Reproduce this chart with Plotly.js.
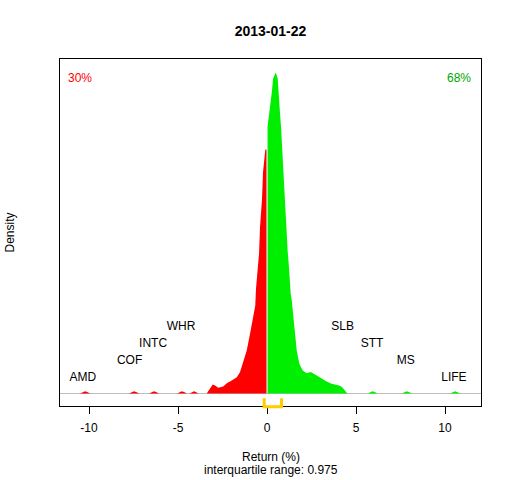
<!DOCTYPE html>
<html>
<head>
<meta charset="utf-8">
<script src="https://cdn.plot.ly/plotly-3.0.1.min.js"></script>
<style>html,body{margin:0;padding:0;background:#fff}#chart{width:512px;height:480px}</style>
</head>
<body>
<div id="chart"></div>
<script>
// Density of negative returns (red)
var negReturn = [-10.50,-10.40,-10.22,-10.04,-9.94,
  -7.75,-7.65,-7.47,-7.29,-7.19,
  -6.63,-6.53,-6.35,-6.17,-6.07,
  -5.06,-4.96,-4.78,-4.60,-4.50,
  -4.35,-4.25,-4.10,-3.95,-3.85,
  -3.39,-3.20,-3.05,-2.92,-2.74,-2.46,-2.26,-1.98,-1.70,-1.52,-1.33,-1.14,-0.955,-0.77,-0.66,-0.62,-0.56,-0.506,-0.449,-0.393,-0.337,-0.281,-0.225,-0.152,-0.096,-0.03];
var negDensity = [0,0.002,0.004,0.002,0,
  0,0.002,0.004,0.002,0,
  0,0.002,0.004,0.002,0,
  0,0.002,0.004,0.002,0,
  0,0.002,0.004,0.002,0,
  0,0.0107,0.0168,0.0150,0.0107,0.0131,0.0193,0.0243,0.0305,0.0398,0.0585,0.0804,0.1116,0.149,0.1645,0.1957,0.2144,0.2361,0.2611,0.3108,0.3359,0.3639,0.4136,0.4355,0.456,0.456];
// Density of positive returns (green)
var posReturn = [0.03,0.073,0.152,0.208,0.242,0.281,0.337,0.41,0.449,0.489,0.601,0.635,0.691,0.730,0.787,0.826,0.882,0.938,0.994,1.051,1.067,1.124,1.163,1.219,1.275,1.331,1.388,1.478,1.573,1.669,1.815,2.006,2.23,2.455,2.70,2.98,3.35,3.63,3.92,4.10,4.25,4.38,4.51,
  5.65,5.75,5.93,6.11,6.21,
  7.57,7.67,7.85,8.03,8.13,
  10.28,10.38,10.56,10.74,10.84];
var posDensity = [0.499,0.510,0.523,0.5415,0.554,0.566,0.588,0.594,0.599,0.600,0.588,0.563,0.5415,0.523,0.498,0.473,0.445,0.395,0.368,0.342,0.317,0.289,0.264,0.242,0.202,0.186,0.174,0.143,0.112,0.080,0.0555,0.043,0.038,0.040,0.0355,0.0293,0.0224,0.0181,0.0150,0.0144,0.0107,0.0056,0,
  0,0.002,0.004,0.002,0,
  0,0.002,0.004,0.002,0,
  0,0.002,0.004,0.002,0];
// Outlier stock labels and their returns (%)
var lowNames = ['AMD','COF','INTC','WHR'];
var lowReturns = [-10.34,-7.72,-6.40,-4.83];
var highNames = ['SLB','STT','MS','LIFE'];
var highReturns = [4.25,5.90,7.79,10.5];
var xTicks = [-10,-5,0,5,10];
var titleText = '2013-01-22';
var pctNeg = '30%';
var pctPos = '68%';
var q1 = -0.16, q3 = 0.815;
var iqrText = 'interquartile range: 0.975';

var FONT = 'Liberation Sans, Arial, Helvetica, sans-serif';
var labelStep = 0.0316;   // vertical stagger between labels (density units)
var labelBase = 0.0295;

// level 1 = outermost
var lowY = lowNames.map(function(_, i){ return labelBase + i*labelStep; });
var highY = highNames.map(function(_, i){ return labelBase + (highNames.length-1-i)*labelStep; });

var traces = [
  {x: negReturn, y: negDensity, type:'scatter', mode:'lines', fill:'tozeroy',
   fillcolor:'#FF0000', line:{width:0, color:'#FF0000'}, hoverinfo:'skip'},
  {x: posReturn, y: posDensity, type:'scatter', mode:'lines', fill:'tozeroy',
   fillcolor:'#00EE00', line:{width:0, color:'#00EE00'}, hoverinfo:'skip'},
  {x: lowReturns.concat(highReturns), y: lowY.concat(highY), type:'scatter', mode:'text',
   text: lowNames.concat(highNames), textposition:'middle center',
   textfont:{family:FONT, size:12, color:'#000'}, hoverinfo:'skip', cliponaxis:false}
];

var layout = {
  width:512, height:480,
  margin:{l:60, r:31, t:59, b:74, pad:0},
  paper_bgcolor:'#fff', plot_bgcolor:'#fff',
  showlegend:false,
  font:{family:FONT, size:12, color:'#000'},
  title:{text:'<b>'+titleText+'</b>', font:{family:FONT, size:14, color:'#000'},
         x:0.5, xref:'paper', xanchor:'center', y:1-31/480, yref:'container', yanchor:'middle'},
  xaxis:{range:[-11.63,12.02], tickvals:xTicks, ticktext:xTicks.map(String),
         ticks:'outside', ticklen:7, tickwidth:1, tickcolor:'#000',
         ticklabelstandoff:4,
         showline:true, mirror:true, linecolor:'#000', linewidth:1,
         showgrid:false, zeroline:false, tickfont:{family:FONT, size:12, color:'#000'}},
  yaxis:{range:[-0.0234,0.625], showticklabels:false, ticks:'',
         showline:true, mirror:true, linecolor:'#000', linewidth:1,
         showgrid:false, zeroline:true, zerolinecolor:'#BEBEBE', zerolinewidth:1},
  shapes:[
    {type:'path', xref:'x', yref:'paper',
     path:'M '+q1+',0.022 L '+q1+',-0.002 L '+q3+',-0.002 L '+q3+',0.022',
     line:{color:'#FFCC00', width:3}}
  ],
  annotations:[
    {text:pctNeg, xref:'paper', yref:'paper', x:0.014, y:0.946, xanchor:'left', yanchor:'middle',
     showarrow:false, font:{family:FONT, size:12, color:'#FF0000'}},
    {text:pctPos, xref:'paper', yref:'paper', x:0.982, y:0.946, xanchor:'right', yanchor:'middle',
     showarrow:false, font:{family:FONT, size:12, color:'#00A600'}},
    {text:'Return (%)', xref:'paper', yref:'paper', x:0.5, y:-0.147, xanchor:'center', yanchor:'middle',
     showarrow:false, font:{family:FONT, size:12, color:'#000'}},
    {text:iqrText, xref:'paper', yref:'paper', x:0.5, y:-0.1844, xanchor:'center', yanchor:'middle',
     showarrow:false, font:{family:FONT, size:12, color:'#000'}},
    {text:'Density', xref:'paper', yref:'paper', x:-0.1188, y:0.5, xanchor:'center', yanchor:'middle',
     textangle:-90, showarrow:false, font:{family:FONT, size:12, color:'#000'}}
  ]
};

Plotly.newPlot('chart', traces, layout, {staticPlot:true, displayModeBar:false});
</script>
</body>
</html>
